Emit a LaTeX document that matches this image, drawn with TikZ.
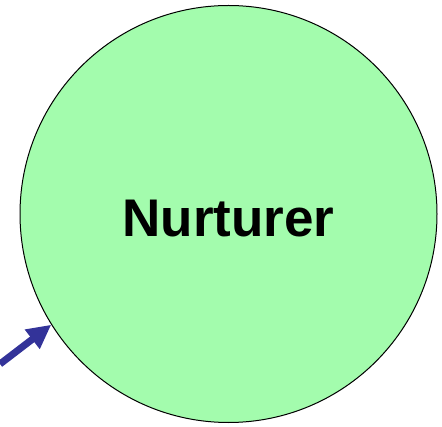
\documentclass[tikz,border=0pt]{standalone}
\usepackage{fontspec}
\setmainfont{Liberation Sans}
\usepackage{tikz}
\usetikzlibrary{arrows.meta,positioning}

\begin{document}
\begin{tikzpicture}[x=1pt,y=1pt]
\definecolor{nurGreen}{rgb}{0.64,0.99,0.68}
\definecolor{nurBlue}{rgb}{0.20,0.20,0.60}
\tikzset{
  rolecircle/.style={circle,draw=black,line width=1pt,fill=nurGreen,
    minimum size=417pt,inner sep=0pt,font=\bfseries\fontsize{53}{60}\selectfont},
  feedarrow/.style={nurBlue,line width=7pt,-{Triangle[length=24pt,width=23pt]}}
}
\useasboundingbox (0,0) rectangle (442,426);
\node[rolecircle] (nur) at (228.5,212) {\raisebox{-23pt}[0pt][0pt]{Nurturer}};
\coordinate (src) at (0,62);
\draw[feedarrow] (src) -- (nur.212);
\end{tikzpicture}
\end{document}
